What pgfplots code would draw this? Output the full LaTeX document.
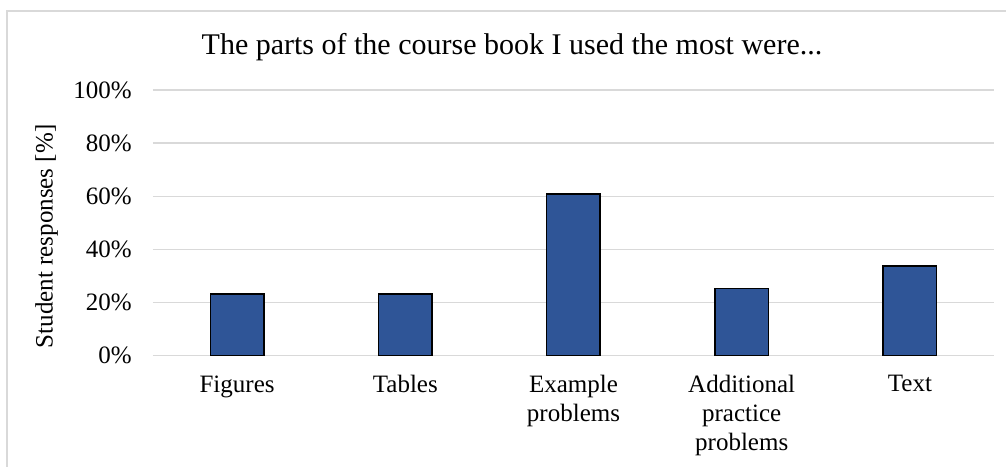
\documentclass[border=0pt]{standalone}
\usepackage{pgfplots}
\pgfplotsset{compat=1.18}
\usepackage{fontspec}
\setmainfont{Liberation Serif}
\definecolor{barblue}{HTML}{2F5597}
\definecolor{gridgray}{HTML}{D9D9D9}
\begin{document}
\begin{tikzpicture}
\useasboundingbox (-76.5pt,-55.15pt) rectangle (426.5pt,177.85pt);
\draw[gridgray, line width=0.8pt] (-73pt,-70pt) -- (-73pt,172.35pt) -- (440pt,172.35pt);
\begin{axis}[
  name=ax,
  at={(0,0)}, anchor=south west,
  scale only axis,
  width=420.5pt, height=132.85pt,
  xmin=-0.5, xmax=4.5,
  ymin=0, ymax=100,
  ytick={0,20,40,60,80,100},
  yticklabels={0\%,20\%,40\%,60\%,80\%,100\%},
  xtick={0,1,2,3,4},
  xticklabels={Figures,Tables,{Example\\problems},{Additional\\practice\\problems},Text},
  major tick length=0pt,
  axis line style={draw=none},
  ymajorgrids,
  grid style={gridgray, line width=0.75pt},
  tick label style={font=\fontsize{12.5}{14.3}\selectfont},
  yticklabel style={anchor=east, inner sep=0pt, xshift=-10.5pt},
  xticklabel style={anchor=north, inner sep=0pt, yshift=-9.7pt, align=center},
  ylabel={Student responses [\%]},
  ylabel style={at={(axis description cs:-0.1264,0.449)}, anchor=center, rotate=0, font=\fontsize{12.5}{14.3}\selectfont},
  clip=false,
]
\addplot[ybar, bar width=26.75pt, fill=barblue, draw=black, line width=0.75pt] coordinates {
  (0,23.3) (1,23.3) (2,60.9) (3,25.3) (4,33.7)
};
\end{axis}
\node[anchor=base, font=\fontsize{15}{18}\selectfont, inner sep=0pt] at (179.5pt,150.35pt) {The parts of the course book I used the most were...};
\end{tikzpicture}
\end{document}
